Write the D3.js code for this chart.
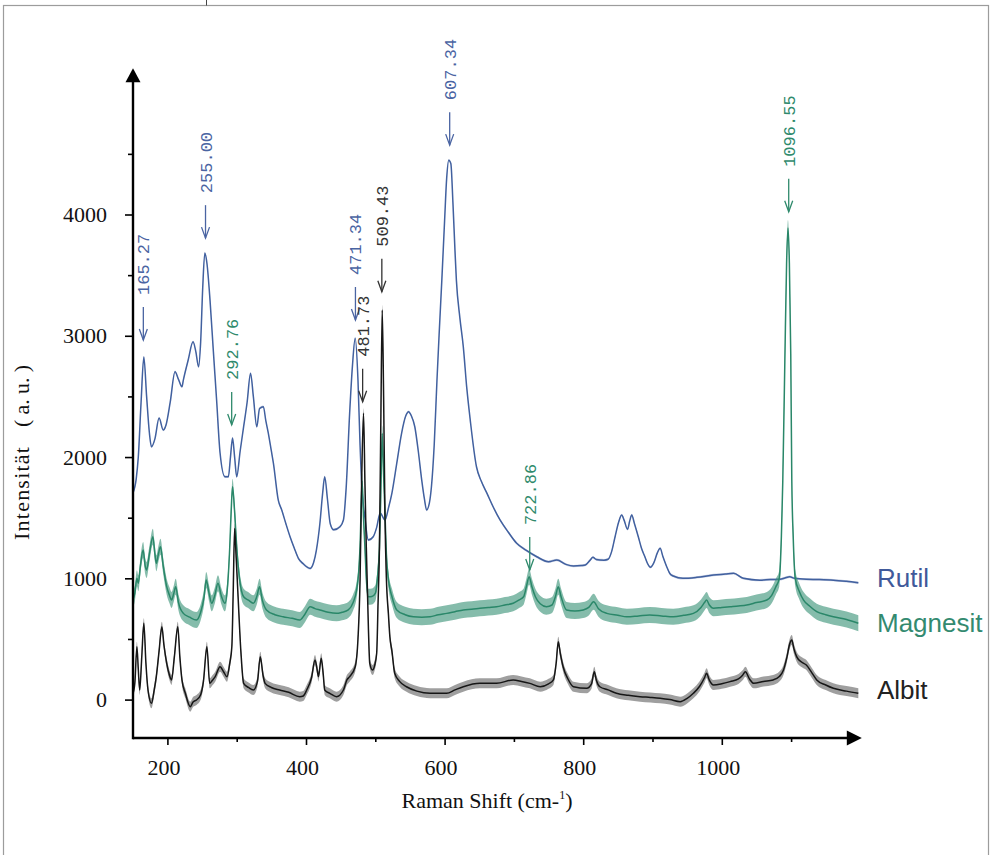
<!DOCTYPE html>
<html><head><meta charset="utf-8">
<script src="https://cdn.jsdelivr.net/npm/d3@7/dist/d3.min.js"></script>
<style>body{margin:0;background:#fff}svg{display:block}</style>
</head><body>
<svg id="chart" width="998" height="855"></svg>
<script>
// ---------------- DATA ----------------
const seriesNames = ["Rutil", "Magnesit", "Albit"];

// [Raman shift (cm-1), intensity (a.u.)]
const rutil = [[150,1700],[155,1820],[158,2000],[162,2450],[166,2824],[170,2500],[174,2200],[177,2085],[182,2150],[188,2321],[194,2223],[198,2264],[204,2450],[211,2703],[216,2640],[221,2580],[223,2635],[230,2800],[237,2950],[241,2870],[245,2745],[248,2950],[251,3400],[254,3682],[257,3600],[261.5,3294],[266,2900],[271,2470],[276,2033],[283,1838],[288,1838],[291,2000],[294,2157],[297,2000],[300,1838],[305,2050],[310,2250],[315,2450],[320,2690],[324,2500],[329,2250],[333,2400],[338.5,2415],[342,2300],[345.6,2198],[350,2050],[353,1948],[360,1645],[365,1563],[371,1450],[377,1343],[383,1250],[389,1165],[396,1120],[406,1082],[411,1130],[415,1233],[420,1450],[424,1700],[427,1838],[431,1650],[435,1450],[440,1400],[449,1425],[454,1481],[458,1750],[463,2363],[467,2750],[471,2980],[475,2635],[478,2100],[480,1810],[485,1500],[490,1316],[497,1343],[502,1420],[507,1538],[514,1481],[519,1580],[524,1703],[531,1950],[538,2198],[544,2340],[548,2374],[552,2340],[557,2250],[562,2050],[567,1810],[571,1650],[574,1563],[578,1620],[581,1755],[585,2100],[589,2635],[592,3000],[596,3459],[600,3950],[603,4300],[606,4448],[609,4420],[612,4100],[615,3700],[617,3459],[622,3150],[627,2909],[632,2570],[637,2305],[646,1920],[653,1800],[661,1703],[670,1590],[680,1481],[692,1380],[704,1289],[718,1230],[733,1178],[750,1137],[762,1151],[775,1115],[786,1101],[797,1105],[803,1110],[810,1150],[814,1173],[819,1155],[824,1151],[830,1150],[836,1157],[841,1220],[846,1343],[851,1460],[855.5,1522],[859,1480],[864,1404],[867,1470],[870,1522],[874,1450],[879.5,1343],[884,1250],[889,1178],[893,1120],[897,1091],[902,1130],[907,1210],[911,1247],[915,1180],[920.5,1096],[925,1040],[930,1019],[944,1000],[964,1008],[988,1027],[1005,1035],[1017,1041],[1031,1000],[1055,985],[1070,990],[1084,992],[1091,1003],[1098,1013],[1105,1000],[1122,992],[1140,990],[1161,985],[1180,975],[1197,964]];

const magnesit = [[150,820],[153,876],[156,1000],[158,959],[161,1100],[165,1233],[168,1100],[170,1068],[174,1200],[179,1343],[182,1200],[184,1124],[187,1200],[190,1261],[194,1100],[199,931],[203,860],[206,821],[209,870],[212,931],[216,800],[223,711],[232,680],[242,656],[248,720],[253,850],[256,986],[260,880],[264,794],[268,850],[273,959],[278,850],[283,794],[287,950],[290,1261],[292,1550],[294,1755],[297,1550],[300,1261],[304,1000],[310,848],[317,820],[324,794],[329,850],[333,931],[337,820],[343,739],[355,700],[367,683],[380,670],[391,656],[398,700],[406,766],[413,750],[420,739],[432,720],[444,711],[452,720],[461,739],[468,800],[473,903],[476,1050],[478,1261],[481,1800],[483,1500],[485,1261],[487,1000],[490,848],[495,850],[500,876],[503,1000],[506,1261],[508,1700],[510,2195],[512,1850],[514,1536],[516,1200],[519,986],[524,850],[531,739],[543,700],[555,683],[567,680],[579,683],[591,700],[603,711],[615,725],[627,739],[639,745],[651,753],[663,760],[675,766],[687,780],[699,794],[707,820],[714,848],[718,930],[722,1013],[726,930],[731,848],[738,790],[747,766],[755,780],[760,850],[764,931],[768,850],[776,739],[788,730],[800,739],[808,760],[815,807],[822,750],[834,711],[850,695],[863,683],[880,690],[896,697],[913,690],[930,683],[945,695],[959,711],[970,760],[975,800],[978,821],[982,780],[988,753],[1000,760],[1012,766],[1024,772],[1036,780],[1050,800],[1065,821],[1072,860],[1078,931],[1083,1000],[1086,1350],[1088,1800],[1091,2800],[1093.5,3600],[1095.5,3888],[1097.5,3600],[1099.5,2850],[1101,1811],[1103,1350],[1106,1000],[1112,890],[1118,821],[1127,770],[1137,725],[1150,700],[1161,683],[1180,660],[1197,629]];

const albit = [[150,50],[153,134],[156,436],[158,250],[160,79],[163,350],[166,629],[169,300],[172,79],[177,-30],[181,80],[184,189],[188,400],[192,601],[195,450],[199,299],[203,200],[206,162],[210,350],[215,601],[218,350],[221,162],[226,50],[233,-58],[237,-20],[242,-3],[248,40],[252,150],[257,436],[261,134],[265,160],[269,189],[276,271],[281,230],[286,189],[290,300],[293,436],[295,900],[297,1410],[299,1200],[302,848],[306,400],[310,134],[317,100],[324,79],[330,150],[334,354],[338,200],[341,134],[350,100],[362,79],[375,60],[391,24],[396,30],[401,79],[408,180],[413,326],[416,250],[418,189],[422,340],[425,200],[427,79],[435,50],[444,24],[454,79],[459,162],[463,189],[471,271],[475,500],[478,986],[480,1700],[483,2362],[485,1800],[487,1261],[490,600],[492,299],[496,244],[499,280],[502,382],[504,800],[506,1261],[508,2300],[510,3212],[512,2500],[514,1500],[516,1000],[519,700],[521,520],[524,400],[528,217],[535,150],[545,106],[560,70],[579,52],[603,52],[615,80],[627,106],[651,134],[675,134],[699,162],[711,150],[723,134],[738,106],[750,130],[757,162],[761,300],[764,477],[767,380],[771,271],[778,170],[786,106],[805,93],[812,130],[816,230],[819,160],[824,106],[836,80],[848,52],[865,35],[882,24],[897,18],[911,11],[925,0],[940,-17],[950,10],[959,52],[968,110],[975,180],[978,217],[982,160],[988,120],[1000,130],[1012,148],[1024,170],[1030,200],[1034,230],[1040,170],[1046,134],[1060,150],[1074,162],[1083,190],[1089,244],[1094,350],[1098,460],[1101,491],[1104,420],[1108,354],[1115,310],[1122,285],[1130,220],[1137,162],[1150,120],[1161,93],[1180,70],[1197,52]];

// peak annotations
const peakLabels = ["165.27","255.00","292.76","471.34","481.73","509.43","607.34","722.86","1096.55"];
const peakShift  = [165.27, 255.00, 292.76, 471.34, 481.73, 509.43, 607.34, 722.86, 1096.55];
const peakArrowTip = [2965, 3805, 2265, 3130, 2456, 3363, 4572, 1068, 4022];
const peakSeries = ["Rutil","Rutil","Magnesit","Rutil","Albit","Albit","Rutil","Magnesit","Magnesit"];

// axes
const xMajorTicks = [200, 400, 600, 800, 1000];
const xMinorTicks = [300, 500, 700, 900, 1100];
const yMajorTicks = [0, 1000, 2000, 3000, 4000];
const yMinorTicks = [500, 1500, 2500, 3500, 4500];
const xTitle = "Raman Shift (cm-";
const yTitleA = "Intensität";
const yTitleB = "( a. u. )";

// ---------------- STYLE ----------------
const colors = {Rutil:"#41609f", Magnesit:"#2a8769", Albit:"#161616"};
const bandColors = {Rutil:"#41609f", Magnesit:"#3a9378", Albit:"#2a2a2a"};
const labelColors = {Rutil:"#40599a", Magnesit:"#338a70", Albit:"#222"};
const annColors = {Rutil:"#4a64a2", Magnesit:"#2f8a6c", Albit:"#333"};
const noise = {Rutil:1.2, Magnesit:8, Albit:5};
const bandOpacity = {Rutil:0.3, Magnesit:0.62, Albit:0.45};

const svg = d3.select("#chart");
const serif = "'Liberation Serif','Times New Roman',serif";

// frame
svg.append("rect").attr("x",3.5).attr("y",5.5).attr("width",985).attr("height",870)
  .attr("fill","none").attr("stroke","#9c9c9c").attr("stroke-width",1.2);
svg.append("line").attr("x1",206.5).attr("x2",206.5).attr("y1",0).attr("y2",5.5)
  .attr("stroke","#444").attr("stroke-width",1);

const x = d3.scaleLinear().domain([150,1200]).range([132.75,860.4]);
const y = d3.scaleLinear().domain([0,4000]).range([699.6,214.5]);
const axisY0 = 738;   // pixel row of the x axis line
const axisX0 = 133;

// series
const dataBy = {Rutil:rutil, Magnesit:magnesit, Albit:albit};
const line = d3.line().curve(d3.curveMonotoneX).x(d=>x(d[0])).y(d=>y(d[1]));
seriesNames.forEach(name=>{
  const k = noise[name];
  const band = d3.area().curve(d3.curveMonotoneX).x(d=>x(d[0])).y0(d=>y(d[1])+k).y1(d=>y(d[1])-k);
  svg.append("path").datum(dataBy[name]).attr("d",band)
    .attr("fill",bandColors[name]).attr("opacity",bandOpacity[name]);
  svg.append("path").datum(dataBy[name]).attr("d",line)
    .attr("fill","none").attr("stroke",colors[name]).attr("stroke-width",1.5)
    .attr("stroke-linejoin","round");
});

// y axis
const gy = svg.append("g").attr("transform",`translate(${axisX0},0)`);
gy.call(d3.axisLeft(y).tickValues(yMajorTicks).tickSize(8).tickPadding(18).tickFormat(d3.format("d")));
const gy2 = svg.append("g").attr("transform",`translate(${axisX0},0)`);
gy2.call(d3.axisLeft(y).tickValues(yMinorTicks).tickSize(5).tickFormat(""));
[gy,gy2].forEach(g=>{g.select(".domain").remove();
  g.selectAll(".tick line").attr("stroke","#000").attr("stroke-width",1.6);});
gy.selectAll(".tick text").attr("font-family",serif).attr("font-size",22).attr("fill","#111");

// x axis
const gx = svg.append("g").attr("transform",`translate(0,${axisY0})`);
gx.call(d3.axisBottom(x).tickValues(xMajorTicks).tickSize(7).tickPadding(14).tickFormat(d3.format("d")));
const gx2 = svg.append("g").attr("transform",`translate(0,${axisY0})`);
gx2.call(d3.axisBottom(x).tickValues(xMinorTicks).tickSize(4).tickFormat(""));
[gx,gx2].forEach(g=>{g.select(".domain").remove();
  g.selectAll(".tick line").attr("stroke","#000").attr("stroke-width",1.6);});
gx.selectAll(".tick text").attr("font-family",serif).attr("font-size",22).attr("fill","#111").attr("dx",-4);

// axis lines with arrows
const xEnd = x(1202);
svg.append("line").attr("x1",axisX0).attr("x2",xEnd-12).attr("y1",axisY0).attr("y2",axisY0)
  .attr("stroke","#000").attr("stroke-width",2.4);
svg.append("path").attr("d",`M${xEnd},${axisY0} L${xEnd-15},${axisY0-7.5} L${xEnd-15},${axisY0+7.5} Z`).attr("fill","#000");
const yTop = y(5205);
svg.append("line").attr("x1",axisX0).attr("x2",axisX0).attr("y1",axisY0+1.2).attr("y2",yTop+12)
  .attr("stroke","#000").attr("stroke-width",2.4);
svg.append("path").attr("d",`M${axisX0},${yTop} L${axisX0-7.5},${yTop+14} L${axisX0+7.5},${yTop+14} Z`).attr("fill","#000");

// axis titles
const xt = svg.append("text").attr("x",487).attr("y",808).attr("text-anchor","middle")
  .attr("font-family",serif).attr("font-size",22).attr("fill","#111").text(xTitle);
xt.append("tspan").attr("font-size",12).attr("dy",-9).text("1");
xt.append("tspan").attr("dy",9).text(")");
svg.append("text").attr("transform","translate(28.5,540) rotate(-90)")
  .attr("font-family",serif).attr("font-size",22).attr("fill","#111")
  .attr("textLength",93).attr("lengthAdjust","spacing").text(yTitleA);
svg.append("text").attr("transform","translate(28.5,427) rotate(-90)")
  .attr("font-family",serif).attr("font-size",22).attr("fill","#111")
  .attr("textLength",62).attr("lengthAdjust","spacing").text(yTitleB);

// series labels
const labelBaseline = {Rutil:587, Magnesit:632, Albit:699};
seriesNames.forEach(name=>{
  svg.append("text").attr("x",877).attr("y",labelBaseline[name])
    .attr("font-family","'Liberation Sans',Arial,sans-serif").attr("font-size",26)
    .attr("fill",labelColors[name]).text(name);
});

// peak annotations
peakLabels.forEach((lab,i)=>{
  const px = x(peakShift[i]);
  const tip = y(peakArrowTip[i]);
  const c = annColors[peakSeries[i]];
  const g = svg.append("g").attr("stroke",c).attr("fill","none").attr("stroke-width",1.3);
  g.append("line").attr("x1",px).attr("x2",px).attr("y1",tip-33).attr("y2",tip);
  g.append("path").attr("d",`M${px-4},${tip-11} L${px},${tip} L${px+4},${tip-11}`);
  svg.append("text").attr("transform",`translate(${px+1.5},${tip-45}) rotate(-90)`)
    .attr("dominant-baseline","central")
    .attr("font-family","'Liberation Mono','DejaVu Sans Mono',monospace").attr("font-size",17)
    .attr("fill",c).text(lab);
});
</script>
</body></html>
